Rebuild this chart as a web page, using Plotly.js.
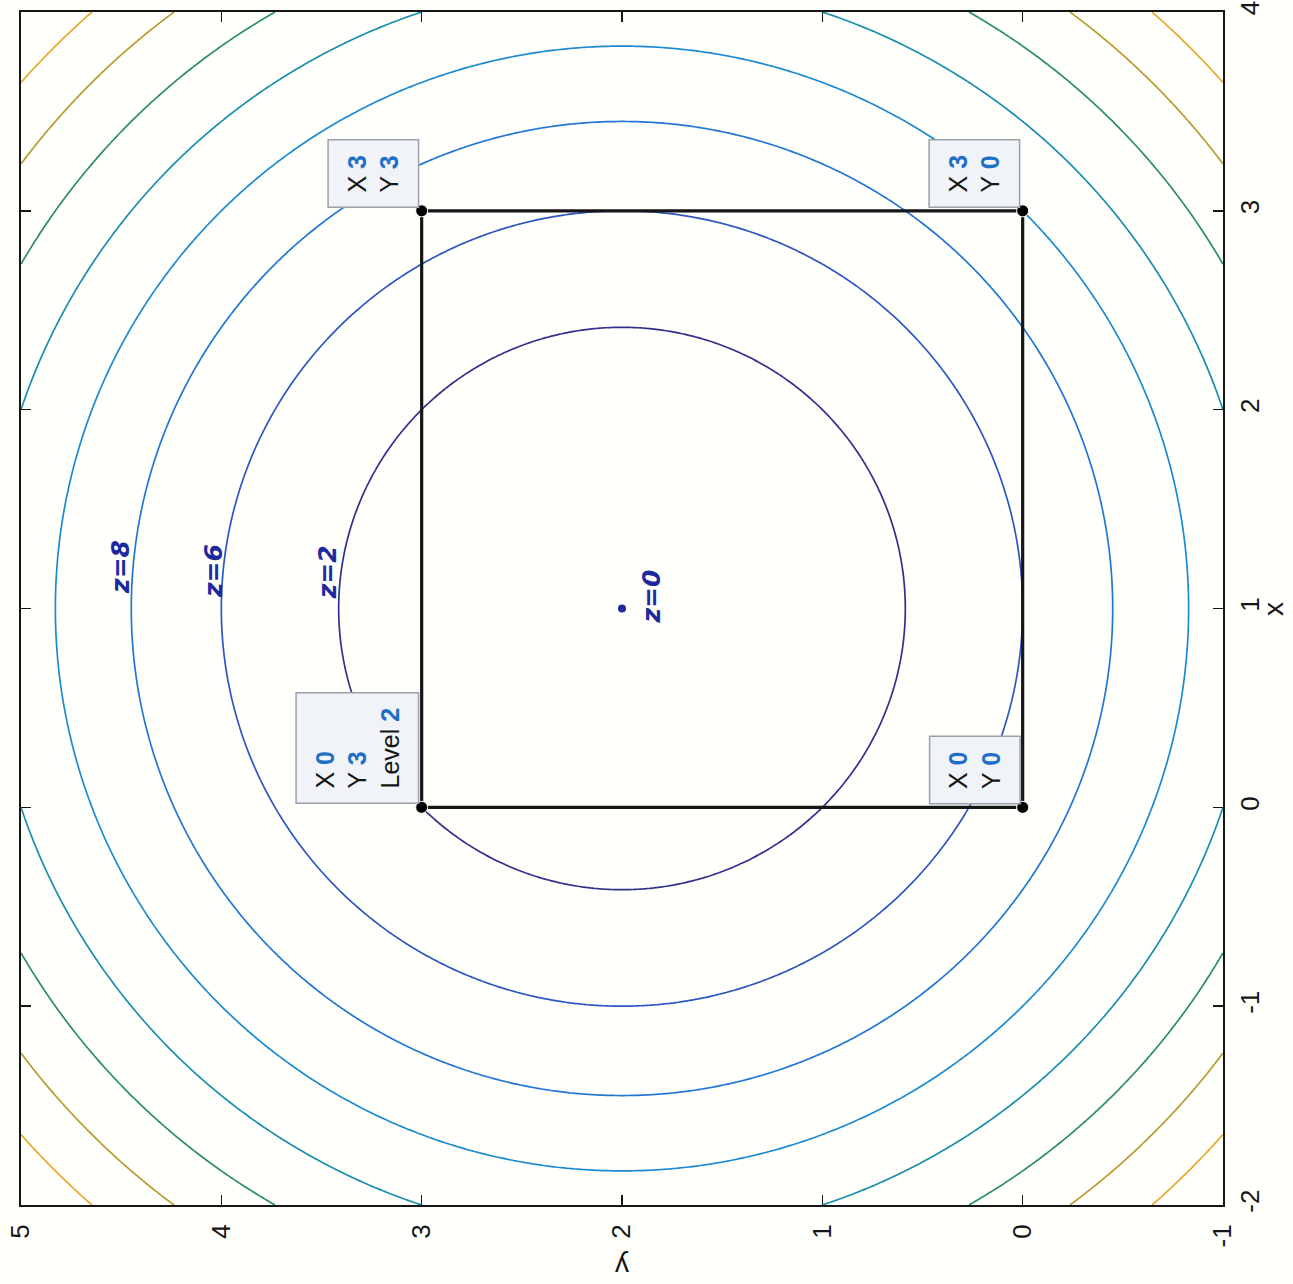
<!DOCTYPE html>
<html>
<head>
<meta charset="utf-8">
<script src="https://cdn.plot.ly/plotly-3.0.1.min.js"></script>
<style>
  html, body { margin: 0; padding: 0; background: #fffffc; }
  #plot { width: 1293px; height: 1284px; }
</style>
</head>
<body>
<div id="plot"></div>
<script>
// z = (x - cx)^2 + (y - cy)^2, drawn on a page turned a quarter turn:
// the y variable runs along the bottom (5 at left, -1 at right),
// the x variable runs up the right-hand side (-2 at bottom, 4 at top).
const centerX = 1;
const centerY = 2;
const xRange = [-2, 4];
const yRange = [-1, 5];
const xTicks = [-2, -1, 0, 1, 2, 3, 4];
const yTicks = [-1, 0, 1, 2, 3, 4, 5];
const levels = [2, 4, 6, 8, 10, 12, 14, 16];
const levelColors = ['#32308c', '#2d56c2', '#2276d4', '#1c8ad0', '#1a8ead', '#2c8e62', '#b99a2e', '#eaa82a'];

// Corner points of the square path
const pathX = [0, 0, 3, 3, 0];
const pathY = [0, 3, 3, 0, 0];

// Data tips
const tipX = [0, 3, 3, 0];
const tipY = [3, 3, 0, 0];
const tipLevel = [2, null, null, null];

// Hand-written notes
const noteText = ['z=8', 'z=6', 'z=2', 'z=0'];
const noteX = [1.21, 1.19, 1.18, 1.06];
const noteY = [4.50, 4.04, 3.47, 1.85];

// Evaluation grid for the contour function
const step = 0.02;
const gridX = [];
for (let v = xRange[0]; v <= xRange[1] + 1e-9; v += step) gridX.push(+v.toFixed(4));
const gridY = [];
for (let v = yRange[0]; v <= yRange[1] + 1e-9; v += step) gridY.push(+v.toFixed(4));
const zGrid = gridX.map(xv => gridY.map(yv => (xv - centerX) ** 2 + (yv - centerY) ** 2));

const ink = '#161616';
const valueBlue = '#1f6fc6';
const penBlue = '#1c2a9e';
const sans = 'Liberation Sans, Arial, sans-serif';

const contour = {
  type: 'contour',
  x: gridY,
  y: gridX,
  z: zGrid,
  autocontour: false,
  contours: { start: levels[0], end: levels[levels.length - 1], size: 2, coloring: 'lines' },
  colorscale: levels.map((l, i) => [(l - levels[0]) / (levels[levels.length - 1] - levels[0]), levelColors[i]]),
  showscale: false,
  line: { width: 1.7, smoothing: 1 },
  hoverinfo: 'skip'
};

const path = {
  type: 'scatter',
  mode: 'lines+markers',
  x: pathY,
  y: pathX,
  line: { color: ink, width: 3.2 },
  marker: { color: '#000', size: 12, line: { color: '#ffffff', width: 1 } },
  hoverinfo: 'skip'
};

const centerDot = {
  type: 'scatter',
  mode: 'markers',
  x: [centerY],
  y: [centerX],
  marker: { color: penBlue, size: 8 },
  hoverinfo: 'skip'
};

function tipText(i) {
  const v = s => '<span style="color:' + valueBlue + '"><b>' + s + '</b></span>';
  let t = 'X ' + v(tipX[i]) + '<br>Y ' + v(tipY[i]);
  if (tipLevel[i] !== null) t += '<br>Level ' + v(tipLevel[i]);
  return t;
}

const annotations = [];
tipX.forEach((xv, i) => {
  annotations.push({
    x: tipY[i], y: xv, xref: 'x', yref: 'y',
    text: tipText(i),
    showarrow: false,
    textangle: -90,
    align: 'left',
    xanchor: 'right', yanchor: 'bottom',
    xshift: -2, yshift: 3,
    font: { family: sans, size: 25, color: ink },
    bgcolor: '#f0f3f7',
    bordercolor: '#9ba1aa',
    borderwidth: 1.5,
    borderpad: 14
  });
});

noteText.forEach((t, i) => {
  annotations.push({
    x: noteY[i], y: noteX[i], xref: 'x', yref: 'y',
    text: '<i><b>' + t + '</b></i>',
    showarrow: false,
    textangle: -90,
    font: { family: 'DejaVu Sans, sans-serif', size: 25, color: penBlue }
  });
});

// Axis titles, turned with the page
annotations.push({
  x: 1.042, y: 1, xref: 'paper', yref: 'y',
  xanchor: 'center', yanchor: 'middle',
  text: 'x', showarrow: false, textangle: -90,
  font: { family: sans, size: 28, color: ink }
});
annotations.push({
  x: 2, y: -0.051, xref: 'x', yref: 'paper',
  xanchor: 'center', yanchor: 'middle',
  text: 'y', showarrow: false, textangle: 180,
  font: { family: sans, size: 28, color: ink }
});

const tickFont = { family: sans, size: 26, color: ink };

const layout = {
  width: 1293,
  height: 1284,
  margin: { l: 21, r: 70, t: 12, b: 79 },
  paper_bgcolor: '#fffffc',
  plot_bgcolor: '#fffffc',
  showlegend: false,
  xaxis: {
    range: [yRange[1], yRange[0]],
    tickvals: yTicks,
    ticktext: yTicks.map(String),
    tickangle: -90,
    ticks: 'inside', ticklen: 10, tickwidth: 1.5, tickcolor: ink,
    ticklabelstandoff: 7,
    mirror: 'ticks', showline: true, linecolor: ink, linewidth: 2,
    showgrid: false, zeroline: false,
    tickfont: tickFont
  },
  yaxis: {
    range: xRange,
    side: 'right',
    tickvals: xTicks,
    ticktext: xTicks.map(String),
    tickangle: -90,
    ticks: 'inside', ticklen: 10, tickwidth: 1.5, tickcolor: ink,
    ticklabelstandoff: 3,
    mirror: 'ticks', showline: true, linecolor: ink, linewidth: 2,
    showgrid: false, zeroline: false,
    tickfont: tickFont
  },
  annotations: annotations
};

Plotly.newPlot('plot', [contour, path, centerDot], layout, { staticPlot: true });
</script>
</body>
</html>
